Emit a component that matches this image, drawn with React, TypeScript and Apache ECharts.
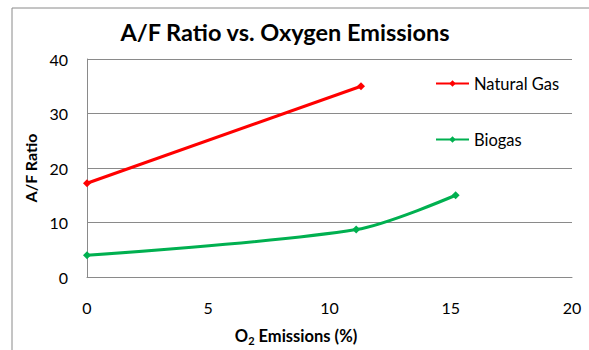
import React, { useEffect, useRef } from "react";
import * as echarts from "echarts";

// O2 emissions (%) and air/fuel ratios for each fuel
const naturalGasO2 = [0, 11.3];
const naturalGasAF = [17.2, 35.0];
const biogasO2 = [0, 11.1, 15.2];
const biogasAF = [4.0, 8.7, 15.0];

const xTicks = { min: 0, max: 20, interval: 5 };
const yTicks = { min: 0, max: 40, interval: 10 };

const FONT = "Lato, 'Open Sans', sans-serif";

function pairs(xs: number[], ys: number[]) {
  return xs.map((x, i) => [x, ys[i]]);
}

export default function App() {
  const ref = useRef<HTMLDivElement>(null);

  useEffect(() => {
    if (!ref.current) return;
    const chart = echarts.init(ref.current, undefined, { renderer: "svg" });
    chart.setOption({
      animation: false,
      backgroundColor: "#ffffff",
      textStyle: { fontFamily: FONT },
      grid: { left: 87, right: 17, top: 59, bottom: 73, containLabel: false },
      graphic: [
        {
          type: "rect",
          silent: true,
          shape: { x: 12, y: 8, width: 640, height: 400 },
          style: { fill: "none", stroke: "#8a8a8a", lineWidth: 1 },
          z: -10,
        },
        {
          type: "text",
          x: 285,
          y: 32,
          style: {
            text: "A/F Ratio vs. Oxygen Emissions",
            font: `bold 23.5px ${FONT}`,
            fill: "#000",
            align: "center",
            verticalAlign: "middle",
          },
        },
        {
          type: "text",
          x: 296,
          y: 336,
          style: {
            text: "{a|O}{s|2}{a| Emissions (%)}",
            align: "center",
            verticalAlign: "middle",
            fill: "#000",
            rich: {
              a: { fontFamily: FONT, fontWeight: "bold", fontSize: 16.5, lineHeight: 19, fill: "#000" },
              s: { fontFamily: FONT, fontWeight: "bold", fontSize: 11, lineHeight: 11, verticalAlign: "bottom", fill: "#000" },
            },
          },
        },
      ],
      legend: {
        orient: "vertical",
        left: 430,
        top: 70,
        itemWidth: 33,
        itemHeight: 8,
        itemGap: 39,
        textStyle: { fontFamily: FONT, fontSize: 16.5, lineHeight: 16, color: "#000" },
        data: ["Natural Gas", "Biogas"],
      },
      xAxis: {
        type: "value",
        min: xTicks.min,
        max: xTicks.max,
        interval: xTicks.interval,
        axisLine: { show: true, onZero: false, lineStyle: { color: "#8a8a8a", width: 1 } },
        axisTick: { show: false },
        splitLine: { show: false },
        axisLabel: { color: "#000", fontSize: 16, fontFamily: FONT, margin: 22 },
      },
      yAxis: {
        type: "value",
        min: yTicks.min,
        max: yTicks.max,
        interval: yTicks.interval,
        name: "A/F Ratio",
        nameLocation: "middle",
        nameGap: 49,
        nameRotate: 90,
        nameTextStyle: { color: "#000", fontSize: 16, fontWeight: "bold", fontFamily: FONT },
        axisLine: { show: true, lineStyle: { color: "#8a8a8a", width: 1 } },
        axisTick: { show: false },
        splitLine: { show: true, lineStyle: { color: "#8a8a8a", width: 1 } },
        axisLabel: { color: "#000", fontSize: 16, fontFamily: FONT, margin: 19 },
      },
      series: [
        {
          name: "Natural Gas",
          type: "line",
          data: pairs(naturalGasO2, naturalGasAF),
          symbol: "diamond",
          symbolSize: 8,
          lineStyle: { color: "#ff0000", width: 3 },
          itemStyle: { color: "#ff0000" },
        },
        {
          name: "Biogas",
          type: "line",
          data: pairs(biogasO2, biogasAF),
          smooth: 0.3,
          symbol: "diamond",
          symbolSize: 8,
          lineStyle: { color: "#00b050", width: 3 },
          itemStyle: { color: "#00b050" },
        },
      ],
    });
    return () => chart.dispose();
  }, []);

  return <div ref={ref} style={{ width: 589, height: 350, position: "absolute", left: 0, top: 0 }} />;
}
